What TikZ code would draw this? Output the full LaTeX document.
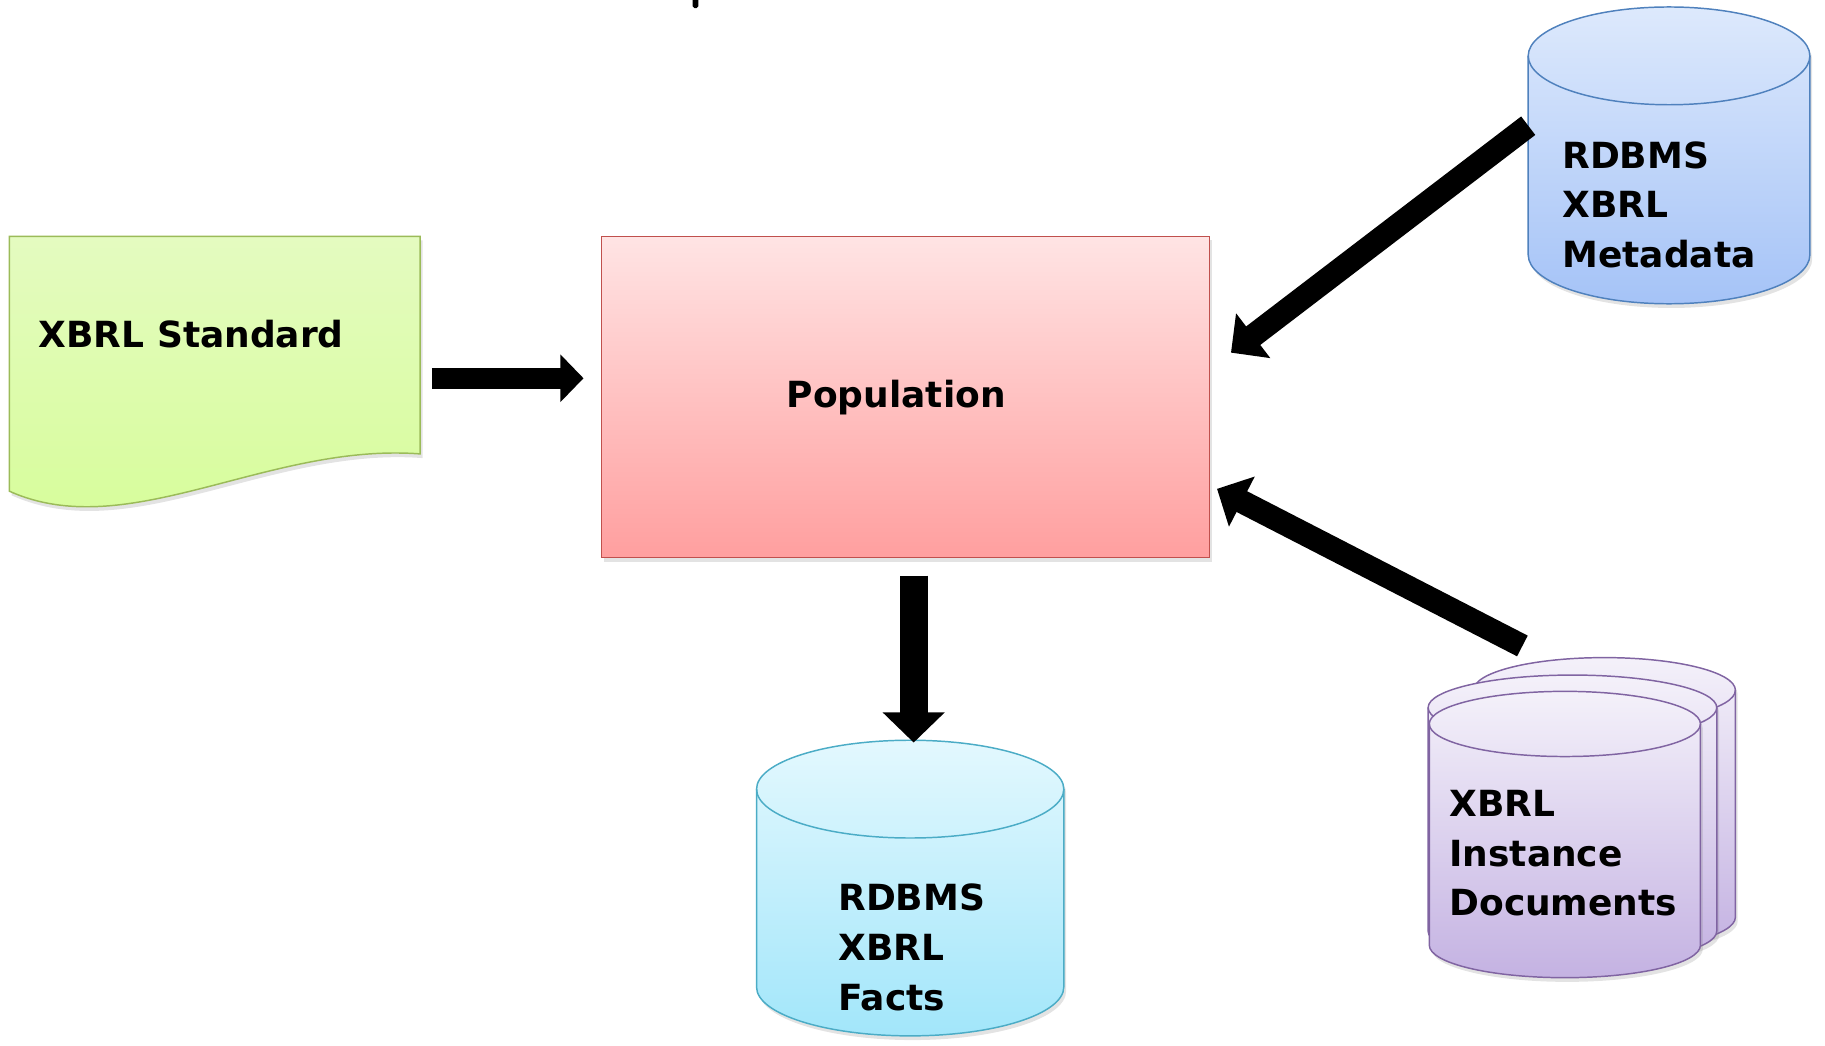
\documentclass[tikz,border=0pt]{standalone}
\usepackage{fontspec}
\setmainfont{DejaVu Sans}
\usetikzlibrary{arrows.meta,shadows}

\definecolor{popline}{HTML}{C0504D}
\definecolor{poptop}{HTML}{FFE4E4}
\definecolor{popbot}{HTML}{FF9F9F}
\definecolor{stdline}{HTML}{9BBB59}
\definecolor{stdtop}{HTML}{E4FBC0}
\definecolor{stdbot}{HTML}{D6FD98}
\definecolor{metaline}{HTML}{4F81BD}
\definecolor{metatop}{HTML}{DDE9FC}
\definecolor{metabot}{HTML}{A5C3F7}
\definecolor{factline}{HTML}{4BACC6}
\definecolor{facttop}{HTML}{E3F8FE}
\definecolor{factbot}{HTML}{A2E6FA}
\definecolor{instline}{HTML}{8064A2}
\definecolor{insttop}{HTML}{F4F1FA}
\definecolor{instbot}{HTML}{C4B2E2}

\tikzset{
  txt/.style={font=\bfseries\fontsize{22}{30.5}\selectfont, align=left, anchor=west, inner sep=0pt},
  softshadow/.style={drop shadow={opacity=.22,shadow xshift=.5mm,shadow yshift=-.9mm}},
  popbox/.style={draw=popline, line width=.9pt, top color=poptop, bottom color=popbot, softshadow,
    minimum width=130.5mm, minimum height=69mm},
  stdbox/.style={draw=stdline, line width=.9pt, top color=stdtop, bottom color=stdbot, softshadow},
  metabox/.style={draw=metaline, line width=.9pt, top color=metatop, bottom color=metabot, softshadow},
  metabox-line/.style={draw=metaline, line width=.9pt},
  factbox/.style={draw=factline, line width=.9pt, top color=facttop, bottom color=factbot, softshadow},
  factbox-line/.style={draw=factline, line width=.9pt},
  instbox/.style={draw=instline, line width=.9pt, top color=insttop, bottom color=instbot, softshadow},
  instbox-line/.style={draw=instline, line width=.9pt},
  bigarrow/.style n args={3}{line width=#1, -{Triangle[width=#2,length=#3]}},
}

% drum: left, right, top centre, bottom centre, y radius, style
\newcommand{\drum}[6]{%
  \pgfmathsetmacro{\rx}{(#2-#1)/2}
  \draw[#6] (#1,#3) -- (#1,#4) arc[start angle=180,end angle=0,x radius=\rx,y radius=#5]
    -- (#2,#3) arc[start angle=0,end angle=-180,x radius=\rx,y radius=#5] -- cycle;
  \draw[#6-line] (#1,#3) arc[start angle=180,end angle=0,x radius=\rx,y radius=#5];
}

\begin{document}
\begin{tikzpicture}[x=0.25mm,y=-0.25mm]
  \useasboundingbox (0,0) rectangle (1568,898);

  % cut off title
  \fill[rounded corners=0.4mm] (595,-3) rectangle (600,7);

  % XBRL standard document
  \draw[stdbox] (8,203) -- (361,203) -- (361,390) .. controls (230,380) and (110,468) .. (8,422) -- cycle;
  \node[txt] (std) at (33,287) {XBRL Standard};
  \coordinate (std-e) at (371,325);

  % population
  \node[popbox] (pop) at (778,341) {};
  \node[txt, anchor=center] (poptext) at (770,342) {Population};

  % metadata
  \drum{1313}{1555}{48}{219}{42}{metabox}
  \node[txt] (meta) at (1342,176) {RDBMS\\XBRL\\Metadata};
  \coordinate (meta-w) at (1313,108);

  % facts
  \drum{650}{914}{678}{848}{42}{factbox}
  \node[txt] (facts) at (720,814) {RDBMS\\XBRL\\Facts};
  \coordinate (facts-top) at (785,638);

  % instance documents
  \drum{1266}{1491}{593}{788}{28}{instbox}
  \drum{1227}{1475}{608}{800}{28}{instbox}
  \drum{1228}{1461}{622}{812}{28}{instbox}
  \node[txt] (inst) at (1245,733) {XBRL\\Instance\\Documents};
  \coordinate (inst-nw) at (1308,555);

  % arrows
  \draw[bigarrow={4.5mm}{10mm}{5mm}, shorten >=3.75mm] (std-e) -- (std-e -| pop.west);
  \draw[bigarrow={6mm}{13mm}{6.5mm}, shorten <=3.75mm] (pop.south -| facts-top) -- (facts-top);
  \draw[bigarrow={5mm}{11.75mm}{6mm}] (meta-w) -- ([shift={(18,-38)}]pop.east);
  \draw[bigarrow={5mm}{11.75mm}{6mm}] (inst-nw) -- ([shift={(6,79)}]pop.east);
\end{tikzpicture}
\end{document}
